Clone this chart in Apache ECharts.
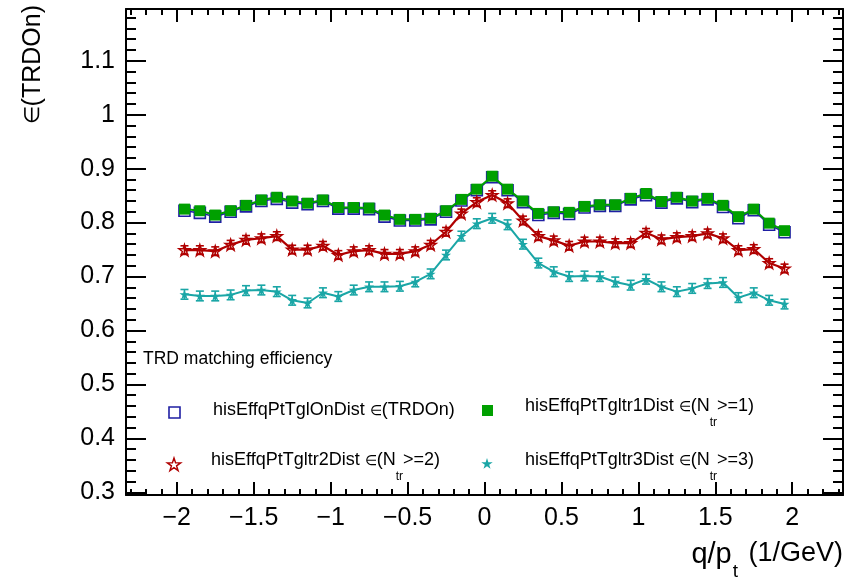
<!DOCTYPE html>
<html><head><meta charset="utf-8">
<script src="https://cdn.jsdelivr.net/npm/echarts@6/dist/echarts.min.js"></script>
<style>html,body{margin:0;padding:0;background:#fff}#c{width:848px;height:580px}</style>
</head><body><div id="c"></div>
<script>
// ---- data ----
const qpt = [-1.95,-1.85,-1.75,-1.65,-1.55,-1.45,-1.35,-1.25,-1.15,-1.05,
             -0.95,-0.85,-0.75,-0.65,-0.55,-0.45,-0.35,-0.25,-0.15,-0.05,
              0.05, 0.15, 0.25, 0.35, 0.45, 0.55, 0.65, 0.75, 0.85, 0.95,
              1.05, 1.15, 1.25, 1.35, 1.45, 1.55, 1.65, 1.75, 1.85, 1.95];
const effTRDOn = [0.822,0.818,0.811,0.820,0.830,0.840,0.844,0.837,0.834,0.840,
                  0.826,0.826,0.825,0.811,0.804,0.804,0.806,0.820,0.841,0.860,
                  0.884,0.860,0.838,0.814,0.818,0.816,0.828,0.831,0.831,0.843,
                  0.851,0.837,0.845,0.838,0.843,0.829,0.808,0.823,0.796,0.782];
const effNtr1 = [0.825,0.822,0.814,0.822,0.832,0.842,0.847,0.840,0.836,0.842,
                 0.828,0.828,0.827,0.814,0.806,0.806,0.808,0.822,0.843,0.862,
                 0.886,0.862,0.840,0.817,0.820,0.819,0.830,0.833,0.833,0.845,
                 0.854,0.839,0.847,0.840,0.845,0.832,0.811,0.825,0.799,0.785];
const effNtr2 = [0.749,0.749,0.747,0.759,0.768,0.771,0.775,0.750,0.750,0.757,
                 0.740,0.747,0.749,0.742,0.742,0.747,0.759,0.783,0.817,0.838,
                 0.851,0.836,0.804,0.775,0.767,0.757,0.765,0.765,0.762,0.762,
                 0.781,0.769,0.773,0.775,0.780,0.771,0.749,0.751,0.725,0.715];
const effNtr3 = [0.667,0.664,0.664,0.666,0.674,0.675,0.672,0.656,0.651,0.670,
                 0.663,0.675,0.681,0.681,0.682,0.690,0.705,0.740,0.775,0.798,
                 0.808,0.796,0.760,0.725,0.709,0.700,0.701,0.700,0.690,0.684,
                 0.695,0.681,0.672,0.678,0.687,0.689,0.661,0.670,0.656,0.649];
const errNtr2 = [0.008,0.008,0.008,0.008,0.008,0.008,0.008,0.008,0.008,0.008,
                 0.008,0.008,0.008,0.008,0.008,0.008,0.008,0.008,0.008,0.008,
                 0.008,0.008,0.008,0.008,0.008,0.008,0.008,0.008,0.008,0.008,
                 0.008,0.008,0.008,0.008,0.008,0.008,0.008,0.008,0.008,0.008];
const errNtr3 = [0.009,0.009,0.009,0.009,0.009,0.009,0.009,0.009,0.009,0.009,
                 0.009,0.009,0.009,0.009,0.009,0.009,0.009,0.009,0.009,0.009,
                 0.009,0.009,0.009,0.009,0.009,0.009,0.009,0.009,0.009,0.009,
                 0.009,0.009,0.009,0.009,0.009,0.009,0.009,0.009,0.009,0.009];
const xMajorTicks = [-2,-1.5,-1,-0.5,0,0.5,1,1.5,2];
const xMinorTicks = [-2.3,-2.2,-2.1,-2.0,-1.9,-1.8,-1.7,-1.6,-1.5,-1.4,-1.3,-1.2,-1.1,-1.0,-0.9,-0.8,-0.7,-0.6,-0.5,-0.4,-0.3,-0.2,-0.1,0,
                     0.1,0.2,0.3,0.4,0.5,0.6,0.7,0.8,0.9,1.0,1.1,1.2,1.3,1.4,1.5,1.6,1.7,1.8,1.9,2.0,2.1,2.2,2.3];
const yMajorTicks = [0.3,0.4,0.5,0.6,0.7,0.8,0.9,1.0,1.1];
const yMinorTicks = [0.30,0.32,0.34,0.36,0.38,0.40,0.42,0.44,0.46,0.48,0.50,0.52,0.54,0.56,0.58,0.60,0.62,0.64,0.66,0.68,
                     0.70,0.72,0.74,0.76,0.78,0.80,0.82,0.84,0.86,0.88,0.90,0.92,0.94,0.96,0.98,1.00,1.02,1.04,1.06,1.08,
                     1.10,1.12,1.14,1.16,1.18];
const seriesNames = ['hisEffqPtTglOnDist', 'hisEffqPtTgltr1Dist', 'hisEffqPtTgltr2Dist', 'hisEffqPtTgltr3Dist'];
const legendTitle = 'TRD matching efficiency';

// ---- style ----
const FONT = "'Liberation Sans', Arial, Helvetica, sans-serif";
const C_BLUE = '#1f1fa3', C_GREEN = '#00a000', C_RED = '#b00000', C_TEAL = '#1aa6a6';
const X_MIN = -2.33, X_MAX = 2.33, Y_MIN = 0.295, Y_MAX = 1.196;
const STAR = 'path://M0,-100 L22.45,-30.9 L95.1,-30.9 L36.3,11.8 L58.8,80.9 L0,38.2 L-58.8,80.9 L-36.3,11.8 L-95.1,-30.9 L-22.45,-30.9 Z';

function fmtNum(v) {
  const s = String(Math.round(v * 100) / 100);
  return s.charAt(0) === '-' ? '\u2212' + s.slice(1) : s;
}
function mkAxis(dim, position, ticks, len, showLine, showLabel) {
  return {
    type: 'value', position: position,
    min: dim === 'x' ? X_MIN : Y_MIN, max: dim === 'x' ? X_MAX : Y_MAX,
    axisLine: { show: showLine, onZero: false, lineStyle: { color: '#000', width: 2 } },
    axisTick: { show: true, inside: true, length: len, customValues: ticks, lineStyle: { color: '#000', width: 2 } },
    axisLabel: { show: showLabel, customValues: ticks, formatter: fmtNum, color: '#000',
                 fontFamily: FONT, fontSize: 25, margin: 11 },
    splitLine: { show: false }, minorTick: { show: false }
  };
}
function pts(ys) { return qpt.map((x, i) => [x, ys[i]]); }
function errRender(color) {
  return function (params, api) {
    const x = api.value(0), y = api.value(1), e = api.value(2);
    const t = api.coord([x, y + e]), b = api.coord([x, y - e]);
    const w = 4, st = { stroke: color, lineWidth: 1.6 };
    return { type: 'group', children: [
      { type: 'line', shape: { x1: t[0], y1: t[1], x2: b[0], y2: b[1] }, style: st },
      { type: 'line', shape: { x1: t[0] - w, y1: t[1], x2: t[0] + w, y2: t[1] }, style: st },
      { type: 'line', shape: { x1: b[0] - w, y1: b[1], x2: b[0] + w, y2: b[1] }, style: st }
    ] };
  };
}
function starPoints(cx, cy, r) {
  const out = [];
  for (let k = 0; k < 10; k++) {
    const ang = -Math.PI / 2 + k * Math.PI / 5;
    const rr = k % 2 === 0 ? r : r * 0.382;
    out.push([cx + rr * Math.cos(ang), cy + rr * Math.sin(ang)]);
  }
  return out;
}
const richLeg = {
  n: { fontSize: 18, fontFamily: FONT, fill: '#000', lineHeight: 22, verticalAlign: 'top' },
  e: { fontSize: 14, fontFamily: FONT, fill: '#000', lineHeight: 22, verticalAlign: 'top', padding: [3, 0, 0, 0] },
  s: { fontSize: 12, fontFamily: FONT, fill: '#000', lineHeight: 32, verticalAlign: 'bottom' }
};
function legText(x, yMid, str) {
  return { type: 'text', x: x, y: yMid - 11, z: 10,
    style: { text: str, rich: richLeg, align: 'left', verticalAlign: 'top', fontFamily: FONT, fontSize: 18, fill: '#000' } };
}

const chart = echarts.init(document.getElementById('c'), null, { renderer: 'canvas' });
chart.setOption({
  animation: false,
  backgroundColor: '#fff',
  grid: { left: 126, right: 5, top: 9, bottom: 85, containLabel: false, outerBoundsMode: 'none' },
  xAxis: [
    mkAxis('x', 'bottom', xMajorTicks, 13, true, true),
    mkAxis('x', 'bottom', xMinorTicks, 6, false, false),
    mkAxis('x', 'top', xMajorTicks, 13, true, false),
    mkAxis('x', 'top', xMinorTicks, 6, false, false)
  ],
  yAxis: [
    mkAxis('y', 'left', yMajorTicks, 20, true, true),
    mkAxis('y', 'left', yMinorTicks, 10, false, false),
    mkAxis('y', 'right', yMajorTicks, 20, true, false),
    mkAxis('y', 'right', yMinorTicks, 10, false, false)
  ],
  series: [
    { name: seriesNames[0], type: 'line', data: pts(effTRDOn), symbol: 'rect', symbolSize: 11,
      itemStyle: { color: 'rgba(0,0,0,0)', borderColor: C_BLUE, borderWidth: 1.6 },
      lineStyle: { color: C_BLUE, width: 1.5 }, z: 2 },
    { name: seriesNames[1], type: 'line', data: pts(effNtr1), symbol: 'rect', symbolSize: 11,
      itemStyle: { color: C_GREEN, borderWidth: 0 }, lineStyle: { color: C_GREEN, width: 2 }, z: 3 },
    { name: seriesNames[2] + ' err', type: 'custom', renderItem: errRender(C_RED),
      data: qpt.map((x, i) => [x, effNtr2[i], errNtr2[i]]), encode: { x: 0, y: 1 }, z: 4 },
    { name: seriesNames[2], type: 'line', data: pts(effNtr2), symbol: STAR, symbolSize: 11,
      itemStyle: { color: 'rgba(0,0,0,0)', borderColor: C_RED, borderWidth: 1.5 },
      lineStyle: { color: C_RED, width: 2.2 }, z: 5 },
    { name: seriesNames[3] + ' err', type: 'custom', renderItem: errRender(C_TEAL),
      data: qpt.map((x, i) => [x, effNtr3[i], errNtr3[i]]), encode: { x: 0, y: 1 }, z: 4 },
    { name: seriesNames[3], type: 'line', data: pts(effNtr3), symbol: STAR, symbolSize: 10,
      itemStyle: { color: C_TEAL, borderWidth: 0 }, lineStyle: { color: C_TEAL, width: 2 }, z: 5 }
  ],
  graphic: [
    // y-axis title
    { type: 'text', x: 33, y: 5, rotation: Math.PI / 2,
      style: { text: '{e|\u2208}{a|(TRDOn)}', align: 'right', verticalAlign: 'middle', fontFamily: FONT,
        rich: { a: { fontSize: 25, fontFamily: FONT, fill: '#000', lineHeight: 28 },
                e: { fontSize: 21, fontFamily: FONT, fill: '#000', lineHeight: 28 } } } },
    // x-axis title
    { type: 'text', x: 843, y: 540,
      style: { text: '{q|q/p}{s|t}{a| (1/GeV)}', align: 'right', verticalAlign: 'top', fontFamily: FONT,
        rich: { q: { fontSize: 29, fontFamily: FONT, fill: '#000', lineHeight: 32, verticalAlign: 'top' },
                a: { fontSize: 27, fontFamily: FONT, fill: '#000', lineHeight: 32, verticalAlign: 'top' },
                s: { fontSize: 19, fontFamily: FONT, fill: '#000', lineHeight: 41, verticalAlign: 'bottom', padding: [0, 3, 0, 1] } } } },
    // legend
    { type: 'text', x: 143, y: 359, style: { text: legendTitle, fontFamily: FONT, fontSize: 17.5, fill: '#000', align: 'left', verticalAlign: 'middle' } },
    { type: 'rect', shape: { x: 169, y: 407, width: 11, height: 11 }, style: { fill: 'none', stroke: C_BLUE, lineWidth: 1.6 } },
    legText(213, 412, '{n|' + seriesNames[0] + ' }{e|\u2208}{n|(TRDOn)}'),
    { type: 'rect', shape: { x: 482, y: 405, width: 11, height: 11 }, style: { fill: C_GREEN } },
    legText(525, 408, '{n|' + seriesNames[1] + ' }{e|\u2208}{n|(N}{s|tr}{n|>=1)}'),
    { type: 'polygon', shape: { points: starPoints(174, 465, 7) }, style: { fill: 'none', stroke: C_RED, lineWidth: 1.4 } },
    legText(211, 462, '{n|' + seriesNames[2] + ' }{e|\u2208}{n|(N}{s|tr}{n|>=2)}'),
    { type: 'polygon', shape: { points: starPoints(487, 464, 6) }, style: { fill: C_TEAL } },
    legText(525, 462, '{n|' + seriesNames[3] + ' }{e|\u2208}{n|(N}{s|tr}{n|>=3)}')
  ]
});
</script>
</body></html>
